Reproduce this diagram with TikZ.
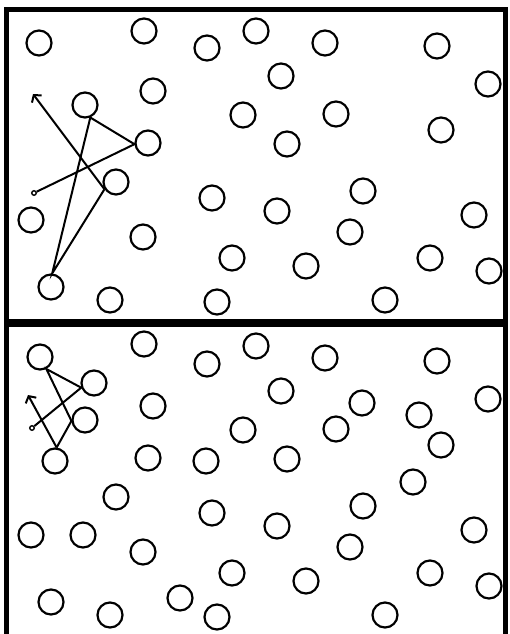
\documentclass[tikz,border=0pt]{standalone}
\usepackage{tikz}
\usetikzlibrary{arrows.meta}

\begin{document}
\begin{tikzpicture}[
		x=1pt, y=-1pt,
		ball/.style={circle, draw=black, line width=2.2pt, minimum size=25pt, inner sep=0pt},
		startDot/.style={circle, draw=black, line width=1.4pt, minimum size=4.5pt, inner sep=0pt},
		track/.style={line width=2pt, draw=black},
		arrow/.style={track, -{Straight Barb[length=5pt, width=12pt]}},
		frame/.style={line width=4.5pt, draw=black}
		]
		\useasboundingbox (0,0) rectangle (509,634);

		% Marcos
		\draw[frame] (6.5,634) -- (6.5,9.5) -- (505.5,9.5) -- (505.5,634);
		\draw[line width=8pt] (4.25,323) -- (507.75,323);

		% Panel superior: moleculas
		\foreach \px/\py in {39/43, 144/31, 207/48, 256/31, 325/43, 437/46,
				281/76, 488/84, 153/91, 243/115, 336/114, 287/144, 441/130,
				363/191, 212/198, 31/220, 277/211, 474/215, 143/237, 350/232,
				232/258, 306/266, 430/258, 489/271, 110/300, 217/302, 385/300}
			\node[ball] at (\px,\py) {};
		\node[ball] (topHit1) at (148,143) {};
		\node[ball] (topHit2) at (85,105) {};
		\node[ball] (topHit3) at (51,287) {};
		\node[ball] (topHit4) at (116,182) {};
		\node[startDot] (topStart) at (34,193) {};
		\coordinate (topEnd) at (33,94);

		% Panel inferior: moleculas
		\foreach \px/\py in {144/344, 207/364, 256/346, 153/406, 243/430,
				148/458, 206/461, 116/497, 212/513, 31/535, 83/535, 143/552,
				232/573, 51/602, 110/615, 180/598, 217/617, 325/358, 281/391,
				362/403, 419/415, 437/361, 488/399, 336/429, 441/445, 287/459,
				413/482, 363/506, 277/526, 474/530, 350/547, 306/581, 430/573,
				489/586, 385/615}
			\node[ball] at (\px,\py) {};
		\node[ball] (botHit1) at (94,383) {};
		\node[ball] (botHit2) at (40,357) {};
		\node[ball] (botHit3) at (85,420) {};
		\node[ball] (botHit4) at (55,461) {};
		\node[startDot] (botStart) at (32,428) {};
		\coordinate (botEnd) at (28,395);

		% Trayectorias
		\draw[track] (topStart) -- (topHit1.185) -- (topHit2.-67) -- (topHit3.85) -- (topHit4.212);
		\draw[arrow] (topHit4.212) -- (topEnd);
		\draw[track] (botStart) -- (botHit1.200) -- (botHit2.-62) -- (botHit3.184) -- (botHit4.83);
		\draw[arrow] (botHit4.83) -- (botEnd);

	\end{tikzpicture}
\end{document}
